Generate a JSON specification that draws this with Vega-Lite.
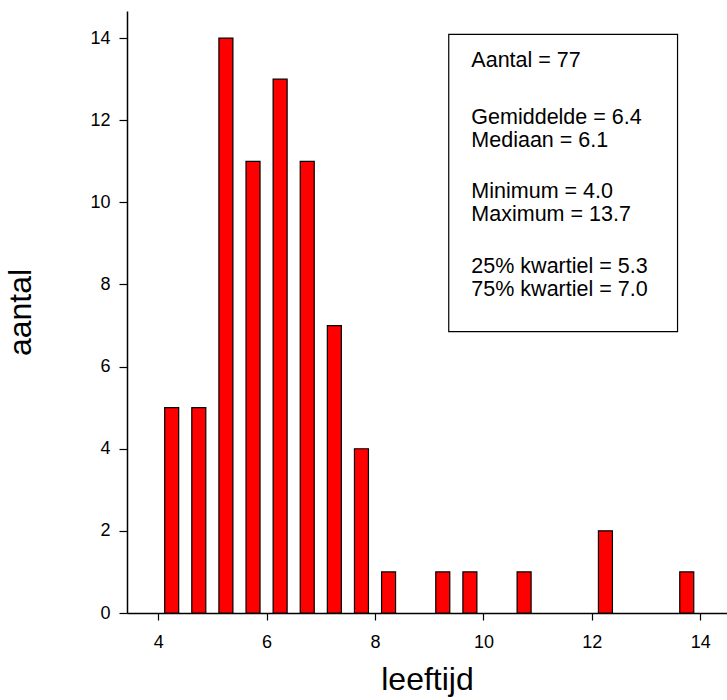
{
  "$schema": "https://vega.github.io/schema/vega-lite/v6.json",
  "width": 600,
  "height": 602,
  "autosize": {"type": "none"},
  "padding": {"left": 127, "top": 11, "right": 0, "bottom": 87},
  "background": "white",
  "config": {
    "view": {"stroke": null},
    "font": "Liberation Sans",
    "axis": {
      "grid": false,
      "domainColor": "black",
      "domainWidth": 1.5,
      "tickColor": "black",
      "tickWidth": 1.2,
      "labelColor": "black",
      "titleColor": "black",
      "labelFont": "Liberation Sans",
      "titleFont": "Liberation Sans",
      "labelFontSize": 18,
      "titleFontSize": 32,
      "titleFontWeight": "normal"
    }
  },
  "datasets": {
    "bars": [
      {"leeftijd": 4.25, "aantal": 5},
      {"leeftijd": 4.75, "aantal": 5},
      {"leeftijd": 5.25, "aantal": 14},
      {"leeftijd": 5.75, "aantal": 11},
      {"leeftijd": 6.25, "aantal": 13},
      {"leeftijd": 6.75, "aantal": 11},
      {"leeftijd": 7.25, "aantal": 7},
      {"leeftijd": 7.75, "aantal": 4},
      {"leeftijd": 8.25, "aantal": 1},
      {"leeftijd": 9.25, "aantal": 1},
      {"leeftijd": 9.75, "aantal": 1},
      {"leeftijd": 10.75, "aantal": 1},
      {"leeftijd": 12.25, "aantal": 2},
      {"leeftijd": 13.75, "aantal": 1}
    ],
    "box": [{"x1": 9.36, "x2": 13.58, "y1": 6.85, "y2": 14.09}],
    "stats": [
      {"label": "Aantal = 77", "x": 9.777, "y": 13.44},
      {"label": "Gemiddelde = 6.4", "x": 9.777, "y": 12.05},
      {"label": "Mediaan = 6.1", "x": 9.777, "y": 11.50},
      {"label": "Minimum = 4.0", "x": 9.777, "y": 10.25},
      {"label": "Maximum = 13.7", "x": 9.777, "y": 9.70},
      {"label": "25% kwartiel = 5.3", "x": 9.777, "y": 8.42},
      {"label": "75% kwartiel = 7.0", "x": 9.777, "y": 7.87}
    ]
  },
  "layer": [
    {
      "data": {"name": "bars"},
      "mark": {"type": "bar", "size": 14, "fill": "#ff0000", "stroke": "black", "strokeWidth": 1.2},
      "encoding": {
        "x": {
          "field": "leeftijd",
          "type": "quantitative",
          "scale": {"domain": [3.518, 14.4], "nice": false, "zero": false},
          "axis": {
            "values": [4, 6, 8, 10, 12, 14],
            "tickSize": 7,
            "labelPadding": 13,
            "title": "leeftijd",
            "titlePadding": 13
          }
        },
        "y": {
          "field": "aantal",
          "type": "quantitative",
          "scale": {"domain": [0, 14.66], "nice": false},
          "axis": {
            "values": [0, 2, 4, 6, 8, 10, 12, 14],
            "tickSize": 8,
            "labelPadding": 9,
            "title": "aantal",
            "titlePadding": 52
          }
        }
      }
    },
    {
      "data": {"name": "box"},
      "mark": {"type": "rect", "fill": "white", "stroke": "black", "strokeWidth": 1.2},
      "encoding": {
        "x": {"field": "x1", "type": "quantitative"},
        "x2": {"field": "x2"},
        "y": {"field": "y1", "type": "quantitative"},
        "y2": {"field": "y2"}
      }
    },
    {
      "data": {"name": "stats"},
      "mark": {"type": "text", "align": "left", "baseline": "middle", "fontSize": 21.5, "font": "Liberation Sans", "color": "black"},
      "encoding": {
        "x": {"field": "x", "type": "quantitative"},
        "y": {"field": "y", "type": "quantitative"},
        "text": {"field": "label"}
      }
    }
  ]
}
